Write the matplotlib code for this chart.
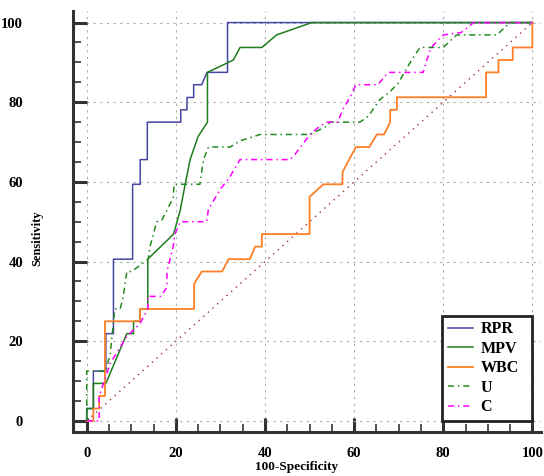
import matplotlib
matplotlib.use("Agg")
import matplotlib.pyplot as plt
from matplotlib.ticker import MultipleLocator

# ---- data (100-Specificity, Sensitivity) ----
rpr_x = [0, 0, 1.5, 1.5, 4.3, 4.3, 6.0, 6.0, 10.3, 10.3, 12.0, 12.0, 13.6, 13.6, 21.1, 21.1,
         22.5, 22.5, 24.0, 24.0, 25.8, 27.0, 31.6, 31.6, 100]
rpr_y = [0, 3.1, 3.1, 12.5, 12.5, 21.9, 21.9, 40.6, 40.6, 59.4, 59.4, 65.6, 65.6, 75, 75, 78.1,
         78.1, 81.2, 81.2, 84.4, 84.4, 87.5, 87.5, 100, 100]

mpv_x = [0, 0, 1.5, 1.5, 4.3, 9.0, 10.5, 10.5, 12.0, 12.0, 13.7, 13.7, 19.5, 21.0, 22.1, 23.2,
         25.0, 27.1, 27.1, 32.9, 34.4, 39.3, 42.6, 50.5, 100]
mpv_y = [0, 3.1, 3.1, 9.4, 9.4, 21.9, 21.9, 25.0, 25.0, 28.1, 28.1, 40.6, 46.9, 53.0, 59.4, 65.6,
         71.4, 75.0, 87.5, 90.6, 93.75, 93.75, 96.9, 100, 100]

wbc_x = [0, 1.5, 1.5, 2.8, 2.8, 4.1, 4.1, 12.0, 12.0, 24.1, 24.1, 25.8, 30.4, 31.8, 36.6, 37.8,
         39.3, 39.3, 50.0, 50.0, 53.1, 57.4, 57.4, 60.4, 63.4, 65.1, 66.7, 68.1, 68.1, 69.6, 69.6,
         89.6, 89.6, 92.4, 92.4, 95.6, 95.6, 100, 100]
wbc_y = [0, 0, 3.1, 3.1, 6.25, 6.25, 25.0, 25.0, 28.1, 28.1, 34.4, 37.5, 37.5, 40.6, 40.6, 43.75,
         43.75, 46.9, 46.9, 56.25, 59.4, 59.4, 62.5, 68.75, 68.75, 71.9, 71.9, 75.0, 78.1, 78.1, 81.25,
         81.25, 87.5, 87.5, 90.6, 90.6, 93.75, 93.75, 100]

u_x = [0, 0, 4.3, 5.3, 6.3, 7.5, 8.2, 9.0, 10.1, 13.8, 14.2, 15.7, 16.8, 19.4, 19.6, 25.4, 25.8,
       26.2, 27.3, 32.2, 34.4, 38.9, 50.1, 53.9, 54.6, 61.3, 63.2, 65.8, 68.1, 69.9, 72.9, 74.8,
       80.0, 83.0, 92.0, 95.0, 100]
u_y = [0, 12.5, 12.5, 17.0, 28.1, 28.1, 31.2, 37.5, 37.5, 40.6, 43.75, 50.0, 50.3, 56.0, 59.4, 59.4,
       62.5, 65.6, 68.75, 68.75, 70.3, 71.9, 71.9, 74.0, 75.0, 75.0, 76.5, 80.7, 82.7, 84.8, 90.6,
       93.75, 93.75, 96.9, 96.9, 100, 100]

c_x = [0, 2.8, 2.8, 5.3, 9.0, 12.0, 13.7, 13.7, 16.6, 18.0, 18.0, 19.4, 19.8, 21.0, 26.9, 27.3,
       29.9, 32.2, 34.4, 45.6, 46.8, 50.1, 52.3, 53.9, 56.3, 57.6, 59.1, 60.4, 65.3, 67.7, 75.5,
       76.3, 77.3, 80.0, 84.0, 86.8, 100]
c_y = [0, 0, 6.25, 14.5, 21.2, 24.5, 28.1, 31.25, 31.25, 33.5, 37.5, 43.75, 46.9, 50.0, 50.0, 53.1,
       58.0, 61.4, 65.6, 65.6, 67.0, 71.9, 74.0, 75.0, 75.0, 78.5, 81.25, 84.4, 84.4, 87.5, 87.5,
       90.6, 93.75, 96.9, 97.5, 100, 100]

diag = [0, 100]
ticks = [0, 20, 40, 60, 80, 100]
labels = ["RPR", "MPV", "WBC", "U", "C"]

# ---- figure ----
fig = plt.figure(figsize=(5.44, 4.76), dpi=100)
ax = fig.add_axes([0.134, 0.0924, 0.861, 0.8836])
serif = "Liberation Serif"

ax.plot(diag, diag, color="#a0303a", lw=1.0, linestyle=(0, (1, 3.5)))
ax.plot(rpr_x, rpr_y, color="#4646a6", lw=1.1, label=labels[0])
ax.plot(mpv_x, mpv_y, color="#1d7d1d", lw=1.1, label=labels[1])
ax.plot(wbc_x, wbc_y, color="#ff7f27", lw=1.3, label=labels[2])
ax.plot(u_x, u_y, color="#228b22", lw=1.1, linestyle=(0, (4, 2.5, 1, 2.5)), label=labels[3])
ax.plot(c_x, c_y, color="#ff00ff", lw=1.1, linestyle=(0, (4, 2.5, 1, 2.5)), label=labels[4])

ax.set_xlim(-3.1, 102)
ax.set_ylim(-2.8, 102.8)
ax.set_xticks(ticks)
ax.set_yticks(ticks)
ax.xaxis.set_minor_locator(MultipleLocator(5))
ax.yaxis.set_minor_locator(MultipleLocator(5))

for s in ["top", "right"]:
    ax.spines[s].set_visible(False)
for s in ["left", "bottom"]:
    ax.spines[s].set_linewidth(2.2)
    ax.spines[s].set_color("#333333")

ax.tick_params(axis="both", which="major", direction="in", length=10, width=2.2, color="#333333")
ax.tick_params(axis="both", which="minor", direction="in", length=6, width=1.2, color="#333333")
ax.tick_params(axis="y", which="major", pad=36)
ax.tick_params(axis="x", which="major", pad=11)
for lab in ax.get_xticklabels() + ax.get_yticklabels():
    lab.set_fontfamily(serif)
    lab.set_fontweight("bold")
    lab.set_fontsize(10.5)

ax.grid(True, which="major", color="#aaaaaa", linestyle=(0, (2, 4)), lw=0.8)

fig.text(0.068, 0.5, "Sensitivity", rotation=90, ha="center", va="center",
         fontfamily=serif, fontweight="bold", fontsize=9)
fig.text(0.546, 0.018, "100-Specificity", ha="center", va="center",
         fontfamily=serif, fontweight="bold", fontsize=9.5)

leg = ax.legend(loc="lower left", bbox_to_anchor=(0.788, 0.026, 0.193, 0.243), mode="expand",
                prop={"family": serif, "weight": "bold", "size": 11.5}, fancybox=False,
                framealpha=1, edgecolor="#222222", handlelength=1.6, borderpad=0.35,
                labelspacing=0.22, handletextpad=0.45, borderaxespad=0)
leg.get_frame().set_linewidth(2)

fig.savefig("out.png", dpi=100)
